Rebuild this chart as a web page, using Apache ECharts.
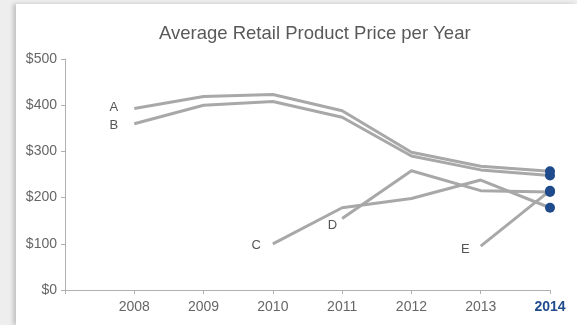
<!DOCTYPE html>
<html lang="en">
<head>
    <meta charset="UTF-8">
    <title>Average Retail Product Price per Year</title>
    <script src="https://cdn.jsdelivr.net/npm/echarts@6.0.0/dist/echarts.min.js"></script>
    <style>
        body {
            margin: 0;
            background-color: #eeeeee;
            font-family: 'Liberation Sans', Arial, sans-serif;
        }
        #panel {
            position: absolute;
            left: 16px;
            top: 4px;
            right: 0;
            bottom: 0;
            background: #ffffff;
            box-shadow: -3px 0 4px rgba(0,0,0,0.18);
        }
        #chart {
            position: absolute;
            left: 0;
            top: 0;
            width: 577px;
            height: 325px;
        }
    </style>
</head>
<body>
    <div id="panel"></div>
    <div id="chart"></div>

    <script>
        // data
        const years = [2008, 2009, 2010, 2011, 2012, 2013, 2014];
        const productNames = ['A', 'B', 'C', 'D', 'E'];
        const priceA = [393, 419, 423, 388, 298, 268, 257];
        const priceB = [360, 400, 408, 374, 290, 260, 248];
        const priceC = [null, null, 100, 178, 198, 238, 178];
        const priceD = [null, null, null, 155, 258, 215, 212];
        const priceE = [null, null, null, null, null, 95, 215];
        const yTicks = [0, 100, 200, 300, 400, 500];

        const allPrices = [priceA, priceB, priceC, priceD, priceE];
        // where each name label sits next to its first point
        const labelStyle = {
            A: { distance: 16, offset: [0, -1] },
            B: { distance: 16, offset: [0, 2] },
            C: { distance: 12, offset: [0, 2] },
            D: { distance: 5, offset: [0, 7] },
            E: { distance: 11, offset: [0, 3] }
        };

        const chart = echarts.init(document.getElementById('chart'));

        const series = productNames.map(function (name, i) {
            const values = allPrices[i];
            const first = values.findIndex(v => v !== null);
            const last = values.length - 1;
            const data = values.map(function (v, j) {
                if (v === null) return null;
                const item = { value: [years[j], v] };
                if (j === first) {
                    item.label = {
                        show: true,
                        position: 'left',
                        formatter: name,
                        distance: labelStyle[name].distance,
                        offset: labelStyle[name].offset,
                        color: '#555555',
                        fontSize: 13
                    };
                }
                return item;
            }).filter(d => d !== null);
            return {
                name: name,
                type: 'line',
                data: data,
                symbol: 'circle',
                showSymbol: true,
                symbolSize: function (val) {
                    return val[0] === years[last] ? 10 : 0;
                },
                itemStyle: { color: '#1f4b8c' },
                lineStyle: { color: '#a8a8a8', width: 3 },
                emphasis: { disabled: true },
                label: { show: false },
                z: 2
            };
        });

        chart.setOption({
            animation: false,
            title: {
                text: 'Average Retail Product Price per Year',
                left: 154,
                top: 19,
                textStyle: {
                    color: '#595959',
                    fontSize: 18.5,
                    fontWeight: 'normal'
                }
            },
            grid: {
                left: 65,
                right: 27,
                top: 59,
                bottom: 35
            },
            xAxis: {
                type: 'value',
                min: 2007,
                max: 2014,
                interval: 1,
                splitLine: { show: false },
                axisLine: { show: true, lineStyle: { color: '#b0b0b0' } },
                axisTick: { show: true, length: 4, lineStyle: { color: '#b0b0b0' } },
                axisLabel: {
                    margin: 10,
                    fontSize: 14,
                    color: '#666666',
                    formatter: function (v) {
                        if (years.indexOf(v) < 0) return '';
                        if (v === years[years.length - 1]) return '{last|' + v + '}';
                        return String(v);
                    },
                    rich: {
                        last: { fontSize: 14, fontWeight: 'bold', color: '#1f4b8c' }
                    }
                }
            },
            yAxis: {
                type: 'value',
                min: yTicks[0],
                max: yTicks[yTicks.length - 1],
                interval: 100,
                splitLine: { show: false },
                axisLine: { show: true, lineStyle: { color: '#b0b0b0' } },
                axisTick: { show: true, length: 4, lineStyle: { color: '#b0b0b0' } },
                axisLabel: {
                    margin: 8,
                    fontSize: 14,
                    color: '#666666',
                    formatter: '${value}'
                }
            },
            series: series
        });
    </script>
</body>
</html>
